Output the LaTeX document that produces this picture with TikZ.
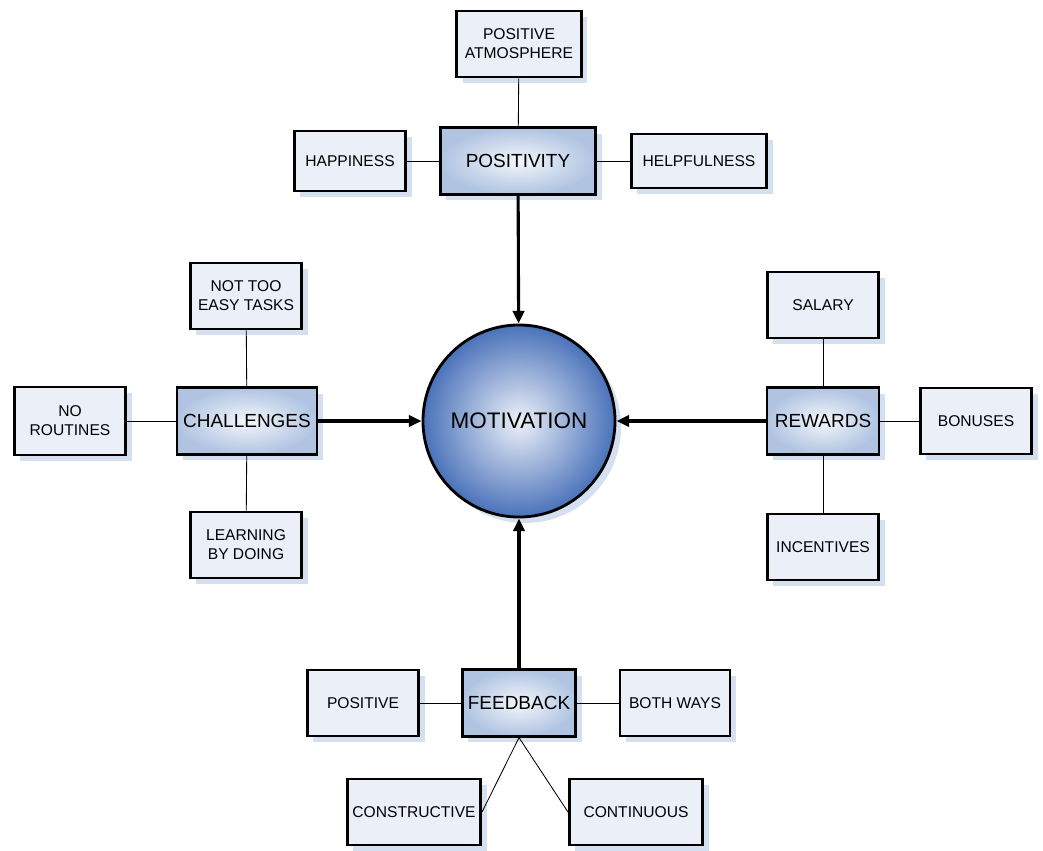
\documentclass[tikz,border=0pt]{standalone}
\usepackage{fontspec}
\setmainfont{Liberation Sans}
\usepackage{tikz}
\usetikzlibrary{positioning, arrows.meta, shadows}
\definecolor{MVBlue}{RGB}{74,114,186}
\definecolor{MVHub}{RGB}{176,196,226}
\definecolor{MVLeaf}{RGB}{234,239,248}
\definecolor{MVShadow}{RGB}{212,223,240}

\begin{document}
\begin{tikzpicture}[x=0.025cm, y=-0.025cm,
          hub/.style={rectangle, draw=black, line width=2pt,
                      inner color=white!85!MVHub, outer color=MVHub,
                      minimum height=1.66cm, font=\fontsize{13.5}{15}\selectfont,
                      drop shadow={shadow xshift=0.15cm, shadow yshift=-0.15cm,
                                   fill=MVShadow, opacity=1}},
          leaf/.style={rectangle, draw=black, line width=2pt, fill=MVLeaf,
                       minimum width=2.78cm, minimum height=1.65cm,
                       align=center, font=\fontsize{11.1}{13.4}\selectfont,
                       drop shadow={shadow xshift=0.15cm, shadow yshift=-0.15cm,
                                    fill=MVShadow, opacity=1}},
          link/.style={black, line width=0.6pt},
          arr/.style={-{Triangle[length=9pt, width=8pt]}, line width=2.2pt}
        ]
        \useasboundingbox (0,0) rectangle (1043,850);
        % Centre
        \node[circle, draw=black, line width=2pt, minimum size=4.8cm,
              inner color=white!90!MVBlue, outer color=MVBlue,
              font=\fontsize{16}{18}\selectfont,
              drop shadow={shadow xshift=0.15cm, shadow yshift=-0.15cm,
                           fill=MVShadow, opacity=1}]
              (mot) at (519, 421) {MOTIVATION};
        % Positivity branch
        \node[hub, minimum width=3.88cm] (pos) at (518, 161) {POSITIVITY};
        \node[leaf, minimum width=3.12cm] (atm) at (519, 44) {POSITIVE\\ATMOSPHERE};
        \node[leaf, minimum height=1.5cm] (hap) at (350, 161) {HAPPINESS};
        \node[leaf, minimum width=3.38cm, minimum height=1.35cm]
              (hlp) at (699, 161) {HELPFULNESS};
        \draw[link] (pos)--(atm);
        \draw[link] (pos)--(hap);
        \draw[link] (pos)--(hlp);
        \draw[arr] (pos)--(mot);
        % Challenges branch
        \node[hub, minimum width=3.5cm] (chl) at (247, 421) {CHALLENGES};
        \node[leaf] (eas) at (246, 296) {NOT TOO\\EASY TASKS};
        \node[leaf, minimum height=1.7cm] (rtn) at (70, 421) {NO\\ROUTINES};
        \node[leaf] (lrn) at (246, 545) {LEARNING\\BY DOING};
        \draw[link] (chl)--(eas);
        \draw[link] (chl)--(rtn);
        \draw[link] (chl)--(lrn);
        \draw[arr] (chl)--(mot);
        % Rewards branch
        \node[hub, minimum width=2.8cm] (rew) at (823, 421) {REWARDS};
        \node[leaf] (sal) at (823, 305) {SALARY};
        \node[leaf] (bon) at (976, 421) {BONUSES};
        \node[leaf] (inc) at (823, 547) {INCENTIVES};
        \draw[link] (rew)--(sal);
        \draw[link] (rew)--(bon);
        \draw[link] (rew)--(inc);
        \draw[arr] (rew)--(mot);
        % Feedback branch
        \node[hub, minimum width=2.83cm] (fbk) at (519, 703) {FEEDBACK};
        \node[leaf] (pst) at (363, 703) {POSITIVE};
        \node[leaf, minimum width=2.75cm] (bth) at (675, 703) {BOTH WAYS};
        \node[leaf, minimum width=3.33cm] (cns) at (414, 812) {CONSTRUCTIVE};
        \node[leaf, minimum width=3.33cm] (cnt) at (636, 812) {CONTINUOUS};
        \draw[link] (fbk)--(pst);
        \draw[link] (fbk)--(bth);
        \draw[link] (fbk.south)--(cns.east);
        \draw[link] (fbk.south)--(cnt.west);
        \draw[arr] (fbk)--(mot);
      \end{tikzpicture}
\end{document}
